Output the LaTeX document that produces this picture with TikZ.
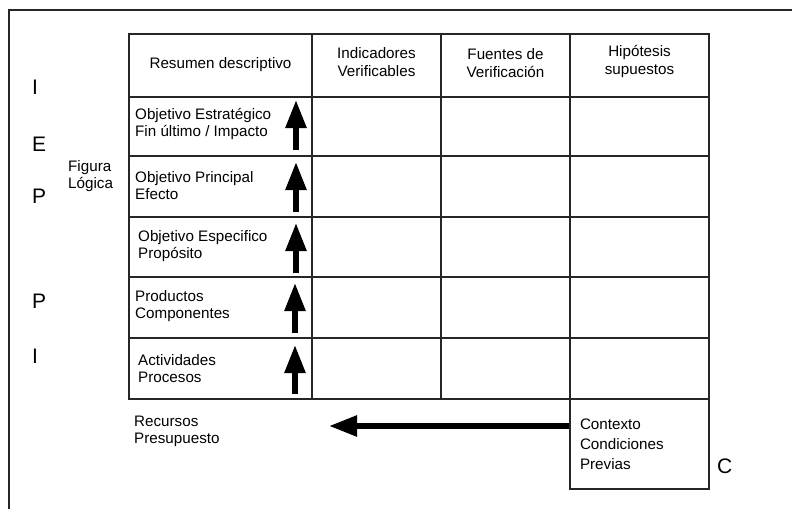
\documentclass[tikz,border=0pt]{standalone}
\usepackage{fontspec}
\setmainfont{Liberation Sans}
\usetikzlibrary{arrows.meta}

\begin{document}
\begin{tikzpicture}[x=1pt,y=-1pt]
\tikzset{linea/.style={draw=black!85, line width=1.3pt},
  texto/.style={anchor=west, align=left, inner sep=0pt, font=\fontsize{15.2}{17}\selectfont},
  titulo/.style={align=center, inner sep=0pt, font=\fontsize{15.2}{17.5}\selectfont},
  letra/.style={anchor=west, inner sep=0pt, font=\fontsize{21}{21}\selectfont},
  flecha/.style={line width=5.5pt, -{Triangle[length=28pt, width=20pt]}}}
\useasboundingbox (0,0) rectangle (792,509);
% marco
\draw[linea] (792,10) -- (9,10) -- (9,509);
% tabla
\draw[linea] (129,34) rectangle (709,399);
\draw[linea] (129,97) -- (709,97);
\draw[linea] (129,156) -- (709,156);
\draw[linea] (129,217) -- (709,217);
\draw[linea] (129,277) -- (709,277);
\draw[linea] (129,338) -- (709,338);
\draw[linea] (312,34) -- (312,399);
\draw[linea] (441,34) -- (441,399);
\draw[linea] (570,34) -- (570,399);
% encabezados
\node[titulo] (h1) at (220.5,65) {Resumen descriptivo};
\node[titulo] (h2) at (376.5,62) {Indicadores\\Verificables};
\node[titulo] (h3) at (505.5,63) {Fuentes de\\Verificación};
\node[titulo] (h4) at (639.5,61.5) {Hipótesis\\supuestos};
% filas
\node[texto] (r1) at (135,123.5) {Objetivo Estratégico\\Fin último / Impacto};
\node[texto] (r2) at (135,185.5) {Objetivo Principal\\Efecto};
\node[texto] (r3) at (138,246.5) {Objetivo Especifico\\Propósito};
\node[texto] (r4) at (135,306) {Productos\\Componentes};
\node[texto] (r5) at (138,368.5) {Actividades\\Procesos};
% flechas verticales
\coordinate (b1) at (296,150); \coordinate (t1) at (296,100);
\coordinate (b2) at (296,212); \coordinate (t2) at (296,162);
\coordinate (b3) at (296,273); \coordinate (t3) at (296,223);
\coordinate (b4) at (295,333); \coordinate (t4) at (295,283);
\coordinate (b5) at (295,394); \coordinate (t5) at (295,345);
\draw[flecha] (b1) -- (t1);
\draw[flecha] (b2) -- (t2);
\draw[flecha] (b3) -- (t3);
\draw[flecha] (b4) -- (t4);
\draw[flecha] (b5) -- (t5);
% letras
\node[letra] (L1) at (32,87) {I};
\node[letra] (L2) at (32,144.5) {E};
\node[letra] (L3) at (32,196) {P};
\node[letra] (L4) at (32,301) {P};
\node[letra] (L5) at (32,356) {I};
\node[letra] (L6) at (717,466.5) {C};
\node[texto] (fig) at (68,176.5) {Figura\\Lógica};
% recursos y contexto
\node[texto] (rec) at (134,431.5) {Recursos\\Presupuesto};
\node[linea, minimum width=139pt, minimum height=90pt, text width=119pt, inner sep=10pt,
  align=left, font=\fontsize{15.2}{20}\selectfont] (ctx) at (639.5,444) {Contexto\\Condiciones\\Previas};
\coordinate (fin) at (329,426);
\draw[flecha] ([yshift=18pt]ctx.west) -- (fin);
\end{tikzpicture}
\end{document}
